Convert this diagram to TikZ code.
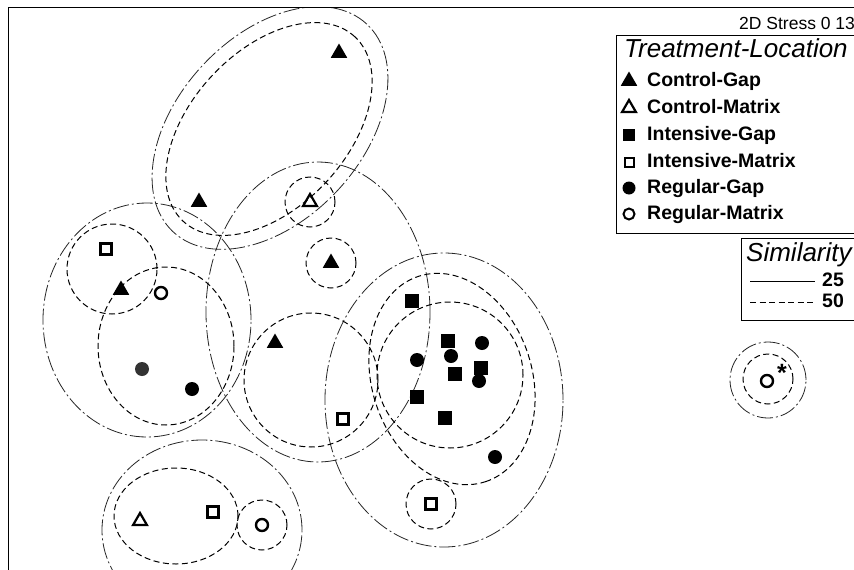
\documentclass[tikz,border=0pt]{standalone}
\usepackage{fontspec}
\setmainfont{Liberation Sans}
\usetikzlibrary{shapes.geometric}
\begin{document}
\begin{tikzpicture}[x=1pt,y=-1pt,
  mk/.style={inner sep=0pt, outer sep=0pt},
  ftri/.style={mk, regular polygon, regular polygon sides=3, minimum size=19pt, fill=black},
  otri/.style={mk, regular polygon, regular polygon sides=3, minimum size=16pt, draw=black, line width=2.2pt},
  fsq/.style={mk, rectangle, minimum size=14pt, fill=black},
  osq/.style={mk, rectangle, minimum size=11pt, draw=black, line width=2.6pt},
  fcirc/.style={mk, circle, minimum size=14pt, fill=black},
  gcirc/.style={mk, circle, minimum size=14pt, fill=black!80},
  ocirc/.style={mk, circle, minimum size=12pt, draw=black, line width=2.4pt},
  sa/.style={line width=0.8pt, draw=black!85, dash pattern=on 16pt off 3pt on 2pt off 3pt},
  sb/.style={line width=1pt, draw=black, dash pattern=on 6pt off 3.5pt},
  lab/.style={inner sep=0pt, anchor=west, text height=14pt, text depth=4pt, font=\fontsize{19.5}{22}\selectfont\bfseries},
  ttl/.style={inner sep=0pt, anchor=west, text height=19pt, text depth=5pt, font=\fontsize{26}{30}\selectfont\itshape},
  box/.style={draw=black, line width=1pt, inner sep=0pt, anchor=north west}
]
\useasboundingbox (0,0) rectangle (854,570);
\fill[white] (0,0) rectangle (854,570);
\begin{scope}
\clip (8,7) rectangle (854,570);
% similarity 25 contours
\draw[sa, rotate around={47:(270,128)}] (270,128) ellipse [x radius=142pt, y radius=92pt];
\draw[sa] (318,312) ellipse [x radius=112pt, y radius=150pt];
\draw[sa] (147,320) ellipse [x radius=104pt, y radius=117pt];
\draw[sa] (444,400) ellipse [x radius=119pt, y radius=147pt];
\draw[sa] (202,530) ellipse [x radius=100pt, y radius=90pt];
\draw[sa] (768,380) circle [radius=38pt];
% similarity 50 contours
\draw[sb, rotate around={47:(269,129)}] (269,129) ellipse [x radius=126pt, y radius=78pt];
\draw[sb] (310,202) circle [radius=25pt];
\draw[sb] (331,263) circle [radius=25pt];
\draw[sb] (112,269) circle [radius=45pt];
\draw[sb] (166,346) ellipse [x radius=68pt, y radius=79pt];
\draw[sb] (311,380) circle [radius=67pt];
\draw[sb, rotate around={-72:(452,379)}] (452,379) ellipse [x radius=108pt, y radius=80pt];
\draw[sb] (450,375) circle [radius=73pt];
\draw[sb] (431,504) circle [radius=25pt];
\draw[sb] (176,516) ellipse [x radius=62pt, y radius=48pt];
\draw[sb] (262,525) circle [radius=25pt];
\draw[sb] (768,379) circle [radius=25pt];
\end{scope}
% frame
\draw[line width=1pt] (8,570) -- (8,7) -- (854,7);
% Control-Gap
\node[ftri] (cg1) at (339,53) {};
\node[ftri] (cg2) at (199,202) {};
\node[ftri] (cg3) at (331,263) {};
\node[ftri] (cg4) at (121,290) {};
\node[ftri] (cg5) at (275,343) {};
% Control-Matrix
\node[otri] (cm1) at (310,202) {};
\node[otri] (cm2) at (140,521) {};
% Intensive-Gap
\node[fsq] (ig1) at (412,301) {};
\node[fsq] (ig2) at (448,341) {};
\node[fsq] (ig3) at (455,374) {};
\node[fsq] (ig4) at (481,368) {};
\node[fsq] (ig5) at (417,397) {};
\node[fsq] (ig6) at (445,418) {};
% Intensive-Matrix
\node[osq] (im1) at (106,249) {};
\node[osq] (im2) at (343,419) {};
\node[osq] (im3) at (213,512) {};
\node[osq] (im4) at (431,504) {};
% Regular-Gap
\node[gcirc] (rg1) at (142,369) {};
\node[fcirc] (rg2) at (192,389) {};
\node[fcirc] (rg3) at (417,360) {};
\node[fcirc] (rg4) at (451,356) {};
\node[fcirc] (rg5) at (482,343) {};
\node[fcirc] (rg6) at (479,381) {};
\node[fcirc] (rg7) at (495,457) {};
% Regular-Matrix
\node[ocirc] (rm1) at (161,293) {};
\node[ocirc] (rm2) at (262,525) {};
\node[ocirc] (rm3) at (767,381) {};
\node[inner sep=0pt, font=\fontsize{25}{25}\selectfont\bfseries] (ast) at (782,373) {*};
% stress
\node[inner sep=0pt, anchor=west, font=\fontsize{17.5}{19}\selectfont] (stress) at (739,23) {2D Stress 0 13};
% treatment legend
\node[box, minimum width=260pt, minimum height=198pt] (legbox) at (616,35) {};
\node[ttl] (legttl) at (624,50) {Treatment-Location};
\node[ftri] (l1) at (629,81) {};
\node[lab] (t1) at (647,81) {Control-Gap};
\node[otri] (l2) at (629,108) {};
\node[lab] (t2) at (647,108) {Control-Matrix};
\node[fsq, minimum size=12pt] (l3) at (629,135) {};
\node[lab] (t3) at (647,135) {Intensive-Gap};
\node[osq, minimum size=9pt, line width=2pt] (l4) at (629,162) {};
\node[lab] (t4) at (647,162) {Intensive-Matrix};
\node[fcirc, minimum size=13pt] (l5) at (629,188) {};
\node[lab] (t5) at (647,188) {Regular-Gap};
\node[ocirc, minimum size=11pt, line width=2pt] (l6) at (629,214) {};
\node[lab] (t6) at (647,214) {Regular-Matrix};
% similarity legend
\node[box, minimum width=130pt, minimum height=82pt] (simbox) at (741,238) {};
\node[ttl] (simttl) at (746,254) {Similarity};
\coordinate (s25a) at (750,281);
\coordinate (s25b) at (815,281);
\draw[line width=0.9pt] (s25a) -- (s25b);
\node[lab] (t25) at (822,281) {25};
\coordinate (s50a) at (750,302);
\coordinate (s50b) at (815,302);
\draw[line width=0.9pt, dash pattern=on 6pt off 3.5pt] (s50a) -- (s50b);
\node[lab] (t50) at (822,302) {50};
\end{tikzpicture}
\end{document}
